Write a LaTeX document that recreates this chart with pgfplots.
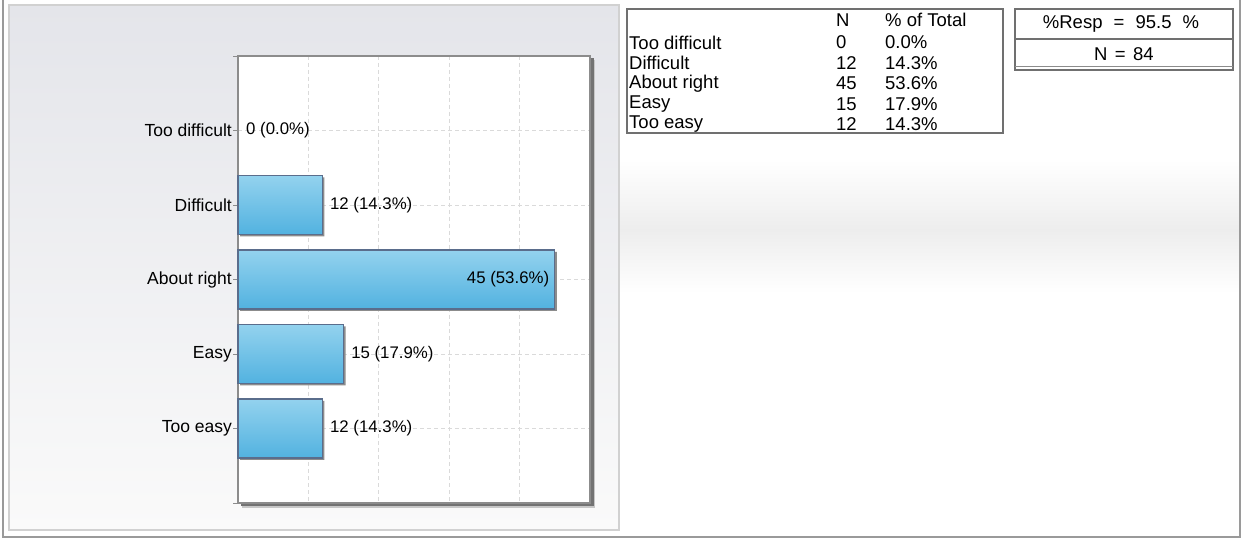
\documentclass[border=0pt]{standalone}
\usepackage{pgfplots}
\pgfplotsset{compat=1.18}
\usepackage{fontspec}
\setmainfont{Liberation Sans}
\definecolor{bartop}{HTML}{93D2EE}
\definecolor{barbot}{HTML}{52B2E0}
\definecolor{barborder}{HTML}{5A6D8C}
\definecolor{panelTop}{HTML}{E4E5EA}
\definecolor{panelBot}{HTML}{FAFAFA}
\definecolor{framec}{HTML}{9A9A9A}
\definecolor{gridc}{HTML}{DADADA}
\definecolor{tabc}{HTML}{707070}
\newcommand{\lblfont}{\fontsize{17.5bp}{20bp}\selectfont}
\newcommand{\nodefont}{\fontsize{16.8bp}{19bp}\selectfont}
\newcommand{\tabfont}{\fontsize{18.5bp}{21bp}\selectfont}
\begin{document}
\begin{tikzpicture}[x=1bp,y=1bp]
\path[use as bounding box] (0,0) rectangle (1243,539);
\fill[white] (0,0) rectangle (1243,539);
% soft band on the right
\shade[top color=white, bottom color=black!7] (619,539-160) rectangle (1239,539-230);
\shade[top color=black!7, bottom color=white] (619,539-230) rectangle (1239,539-293);
% outer frame
\draw[framec, line width=2] (3,539) -- (3,2) -- (1240,2) -- (1240,539);
% chart panel
\shade[top color=panelTop, bottom color=panelBot] (9,539-5) rectangle (619,539-530);
\draw[black!18, line width=1.5] (9,539-5) rectangle (619,539-530);
% plot shadow
\fill[black!22] (242,539-508) rectangle (595,539-60);
\fill[black!55] (240.5,539-506) rectangle (593.5,539-58.5);
\begin{axis}[
  at={(238bp,36bp)}, anchor=south west,
  scale only axis, width=352bp, height=447bp,
  xmin=0, xmax=50, ymin=0, ymax=6, y dir=reverse,
  xtick={10,20,30,40}, xticklabels={}, xtick style={draw=none},
  ytick={0,1,2,3,4,5,6},
  yticklabels={,Too difficult,Difficult,About right,Easy,Too easy,},
  ytick pos=left, tick align=outside, major tick length=5bp,
  y tick style={draw=black!45, line width=0.8bp},
  xmajorgrids, ymajorgrids,
  grid style={gridc, dash pattern=on 4bp off 3bp, line width=0.8bp},
  axis line style={draw=black!45, line width=1.2bp},
  axis background/.style={fill=white},
  yticklabel style={font=\lblfont, text=black, inner sep=1bp},
  clip=false,
  mybar/.style={xbar, bar shift=0pt, bar width=59bp, draw=barborder,
    line width=1.3bp, top color=bartop, bottom color=barbot,
    point meta=explicit symbolic, nodes near coords,
    nodes near coords style={anchor=west, font=\nodefont, inner sep=1bp,
      xshift=6bp, text=black}},
  shbar/.style={xbar, bar shift=0pt, bar width=59bp, draw=none,
    fill=black!45, xshift=2bp, yshift=-2bp},
]
\addplot[shbar] coordinates {(12,2) (45,3) (15,4) (12,5)};
\addplot[mybar] coordinates {(12,2) [12 (14.3\%)]};
\addplot[mybar, nodes near coords style={anchor=east, xshift=-10bp}] coordinates {(45,3) [45 (53.6\%)]};
\addplot[mybar] coordinates {(15,4) [15 (17.9\%)]};
\addplot[mybar] coordinates {(12,5) [12 (14.3\%)]};
\addplot[draw=none, mark=none, point meta=explicit symbolic, nodes near coords,
  nodes near coords style={anchor=west, font=\nodefont, inner sep=1bp,
    xshift=7bp, text=black}] coordinates {(0,1) [0 (0.0\%)]};
\end{axis}
% summary table
\draw[tabc, line width=2] (627,539-9) rectangle (1003,539-133);
\begin{scope}[every node/.style={font=\tabfont, inner sep=0pt, anchor=west, text=black}]
\node at (836,539-20) {N};
\node at (885,539-20) {\% of Total};
\node at (629,539-42.5) {Too difficult}; \node at (836,539-42.5) {0};  \node at (885,539-42.5) {0.0\%};
\node at (629,539-63)   {Difficult};     \node at (836,539-63)   {12}; \node at (885,539-63)   {14.3\%};
\node at (629,539-83.5) {About right};   \node at (836,539-83.5) {45}; \node at (885,539-83.5) {53.6\%};
\node at (629,539-104)  {Easy};          \node at (836,539-104)  {15}; \node at (885,539-104)  {17.9\%};
\node at (629,539-124.5){Too easy};      \node at (836,539-124.5){12}; \node at (885,539-124.5){14.3\%};
\end{scope}
% response box
\draw[tabc, line width=2] (1015,539-9) rectangle (1233,539-70);
\draw[tabc, line width=2] (1015,539-39) -- (1233,539-39);
\draw[black!45, line width=1.2] (1015,539-66.5) -- (1233,539-66.5);
\node[font=\tabfont, inner sep=0pt] at (1121,539-24) {\%Resp\hspace{0.6em}=\hspace{0.6em}95.5\hspace{0.6em}\%};
\node[font=\tabfont, inner sep=0pt] at (1124,539-54) {N\hspace{0.4em}=\hspace{0.4em}84};
\end{tikzpicture}
\end{document}
